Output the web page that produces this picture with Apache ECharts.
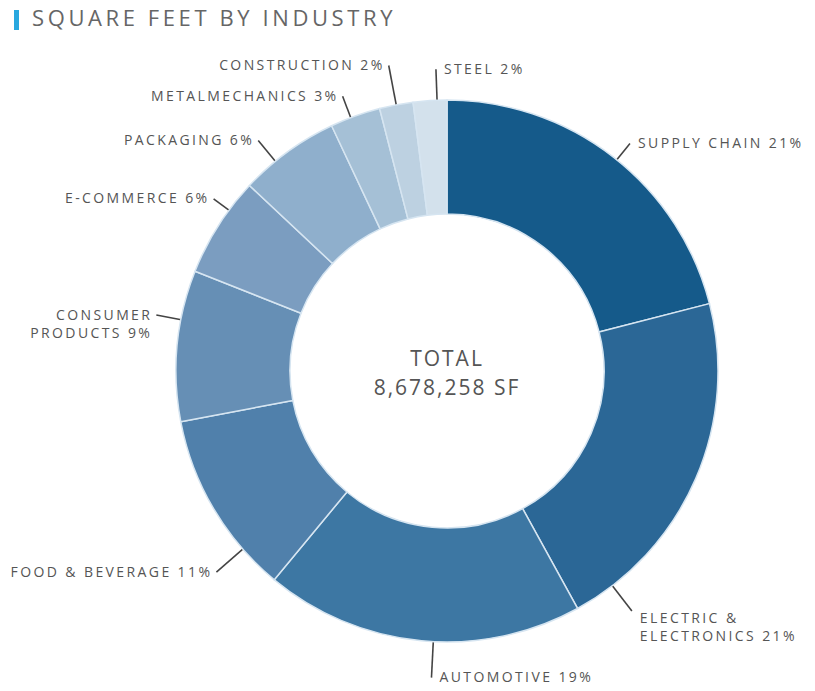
<!DOCTYPE html>
<html>
<head>
<meta charset="utf-8">
<script src="https://cdn.jsdelivr.net/npm/echarts@6/dist/echarts.min.js"></script>
<style>
  html, body { margin: 0; padding: 0; background: #fff; }
  #main { width: 815px; height: 691px; }
  #main text { letter-spacing: 2.4px; }
  #main text[style*="22px"] { letter-spacing: 3.6px; }
  #main text[style*="21px"] { letter-spacing: 2px; }
</style>
</head>
<body>
<div id="main"></div>
<script>
// data
var industries = ['SUPPLY CHAIN', 'ELECTRIC &\nELECTRONICS', 'AUTOMOTIVE', 'FOOD & BEVERAGE',
  'CONSUMER\nPRODUCTS', 'E-COMMERCE', 'PACKAGING', 'METALMECHANICS', 'CONSTRUCTION', 'STEEL']
var shares = [21, 21, 19, 11, 9, 6, 6, 3, 2, 2]
var totalSF = '8,678,258 SF'

var colors = ['#155a8a', '#2b6796', '#3d77a3', '#5080ab', '#668fb5',
  '#7b9dc0', '#8fafcc', '#a5c0d6', '#bdd1e1', '#d3e1ec']

// leader line tweaks (degrees off the slice middle, end radius)
var leadShift = [1, 29, -2.5, -10.5, 5.5, 4, -3.3, -1, 0, 1.5]
var leadEnd = [292, 303, 307, 306, 296, 290, 298, 294, 311, 302]
var leadStart = 260
var cx = 447, cy = 371

var myChart = echarts.init(document.getElementById('main'), null, { renderer: 'svg' })

var sum = shares.reduce(function (a, b) { return a + b }, 0)
var mids = []
var acc = 0
shares.forEach(function (v) {
  mids.push((acc + v / 2) / sum * 360)
  acc += v
})

function polar(deg, r) {
  var a = deg * Math.PI / 180
  return [cx + r * Math.sin(a), cy - r * Math.cos(a)]
}

var option = {
  backgroundColor: '#fff',
  textStyle: { fontFamily: 'Open Sans' },
  graphic: [
    { type: 'rect', shape: { x: 14, y: 10, width: 5, height: 20 }, style: { fill: '#29a8df' } },
    {
      type: 'text', left: 32, top: 6,
      style: { text: 'SQUARE FEET BY INDUSTRY', fill: '#666', font: '22px "Open Sans"' }
    },
    {
      type: 'text', x: cx, y: 358,
      style: { text: 'TOTAL', fill: '#555', font: '21px "Open Sans"', align: 'center', verticalAlign: 'middle' }
    },
    {
      type: 'text', x: cx, y: 387,
      style: { text: totalSF, fill: '#555', font: '21px "Open Sans"', align: 'center', verticalAlign: 'middle' }
    }
  ],
  series: [{
    type: 'pie',
    center: [cx, cy],
    radius: [157, 271],
    startAngle: 90,
    clockwise: true,
    silent: true,
    avoidLabelOverlap: false,
    itemStyle: { borderColor: '#d6e5f1', borderWidth: 1.5 },
    label: {
      show: true,
      position: 'outside',
      color: '#555',
      fontSize: 14,
      lineHeight: 18,
      fontFamily: 'Open Sans',
      formatter: function (p) { return p.name + ' ' + p.value + '%' }
    },
    labelLine: {
      show: true, length: 20, length2: 0,
      lineStyle: { color: '#444', width: 1.6 }
    },
    labelLayout: function (params) {
      var i = params.dataIndex
      var ang = mids[i] + leadShift[i]
      var p1 = polar(ang, leadStart)
      var p2 = polar(ang, leadEnd[i])
      var right = (ang % 360) < 200 || (ang % 360) > 355
      var multi = industries[i].indexOf('\n') >= 0
      var x = right ? p2[0] + 8 : p2[0] - 4
      var y = multi ? p2[1] - 10 + (right ? 7 : 0) : p2[1] - 1
      return {
        x: x,
        y: y,
        align: right ? 'left' : 'right',
        verticalAlign: multi ? 'top' : 'middle',
        labelLinePoints: [p1, p2, p2]
      }
    },
    data: industries.map(function (name, i) {
      return { name: name, value: shares[i], itemStyle: { color: colors[i] } }
    })
  }]
}

myChart.setOption(option)
</script>
</body>
</html>
